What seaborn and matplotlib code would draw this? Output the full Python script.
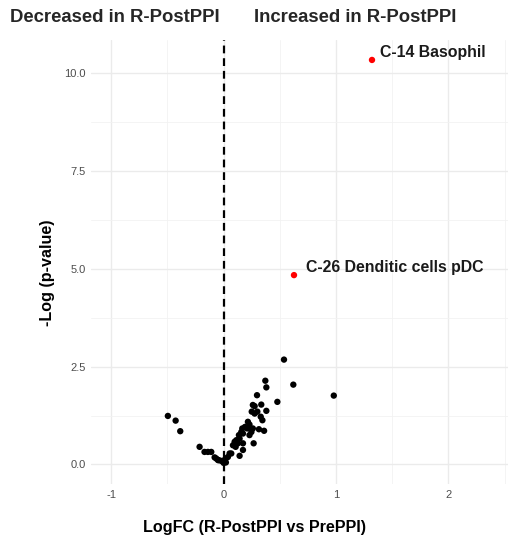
import numpy as np
import pandas as pd
import matplotlib
matplotlib.use("Agg")
import matplotlib.pyplot as plt
from matplotlib.ticker import MultipleLocator
import seaborn as sns

# other clusters (black)
logfc = [-0.496, -0.427, -0.386, -0.214, -0.17, -0.14, -0.11,
         -0.08, -0.05, -0.02, 0.009, 0.038, 0.068, -0.065, -0.042, 0.018, 0.053,
         0.537, 0.62, 0.98,
         0.371, 0.380, 0.297, 0.478, 0.26, 0.276, 0.335, 0.38, 0.25, 0.276, 0.30,
         0.33, 0.345, 0.216, 0.23, 0.19, 0.21, 0.26, 0.314, 0.36,
         0.166, 0.157, 0.172, 0.247, 0.23, 0.136, 0.142, 0.113, 0.098, 0.127,
         0.083, 0.107, 0.172, 0.267, 0.172, 0.142, 0.02, 0.0]
neglogp = [1.24, 1.12, 0.85, 0.45, 0.32, 0.32, 0.32,
           0.18, 0.11, 0.09, 0.11, 0.19, 0.28, 0.15, 0.11, 0.15, 0.28,
           2.68, 2.04, 1.76,
           2.14, 1.97, 1.77, 1.60, 1.52, 1.49, 1.53, 1.37, 1.35, 1.30, 1.35,
           1.22, 1.13, 1.09, 1.02, 0.96, 0.92, 0.92, 0.90, 0.86,
           0.92, 0.83, 0.79, 0.83, 0.75, 0.75, 0.66, 0.62, 0.58, 0.54,
           0.49, 0.45, 0.54, 0.54, 0.37, 0.22, 0.05, 0.04]

# highlighted clusters (red)
sig_names = ["C-14 Basophil", "C-26 Denditic cells pDC"]
sig_logfc = [1.32, 0.626]
sig_neglogp = [10.34, 4.84]

df = pd.DataFrame({"logFC": logfc, "nlp": neglogp})
sig = pd.DataFrame({"logFC": sig_logfc, "nlp": sig_neglogp, "name": sig_names})

sns.set_style("white")
plt.rcParams["font.family"] = ["Liberation Sans", "DejaVu Sans"]

fig = plt.figure(figsize=(5.08, 5.40), dpi=100)
ax = fig.add_axes([91 / 508, 56 / 540, 1 - 91 / 508, 444 / 540])

ax.axvline(0, color="black", lw=1.6, ls=(0, (3.5, 2.2)), zorder=2)
sns.scatterplot(data=df, x="logFC", y="nlp", color="black", s=21,
                edgecolor="none", ax=ax, zorder=3)
sns.scatterplot(data=sig, x="logFC", y="nlp", color="red", s=21,
                edgecolor="none", ax=ax, zorder=3)
# label offsets in points (repel-style)
offsets = [(5.5, 2.2), (9.0, 2.2)]
for (_, r), off in zip(sig.iterrows(), offsets):
    ax.annotate(r["name"], (r["logFC"], r["nlp"]), xytext=off,
                textcoords="offset points", fontsize=11.4, fontweight="bold",
                color="#1a1a1a", va="baseline", ha="left")

ax.set_xlim(-1.18, 2.53)
ax.set_ylim(-0.5, 10.85)
ax.xaxis.set_minor_locator(MultipleLocator(0.5))
ax.yaxis.set_minor_locator(MultipleLocator(1.25))
ax.set_xticks([-1, 0, 1, 2])
ax.set_xticklabels(["-1", "0", "1", "2"])
ax.set_yticks([0, 2.5, 5, 7.5, 10])
ax.set_yticklabels(["0.0", "2.5", "5.0", "7.5", "10.0"])
ax.grid(True, which="major", color="#ebebeb", lw=1.0)
ax.grid(True, which="minor", color="#f2f2f2", lw=0.6)
ax.set_axisbelow(True)
for s in ax.spines.values():
    s.set_visible(False)
ax.tick_params(axis="both", which="both", length=0, labelsize=8,
               labelcolor="#4d4d4d", pad=4)

ax.set_xlabel("LogFC (R-PostPPI vs PrePPI)", fontsize=11.6, fontweight="bold",
              color="black")
ax.xaxis.set_label_coords(0.391, -0.081)
ax.set_ylabel("-Log (p-value)", fontsize=11.6, fontweight="bold", color="black")
ax.yaxis.set_label_coords(-0.087, 0.475)

fig.text(10 / 508, 1 - 18 / 540, "Decreased in R-PostPPI", fontsize=13.3,
         fontweight="bold", va="center", ha="left")
fig.text(254 / 508, 1 - 18 / 540, "Increased in R-PostPPI", fontsize=13.3,
         fontweight="bold", va="center", ha="left")

fig.savefig("out.png", dpi=100)
